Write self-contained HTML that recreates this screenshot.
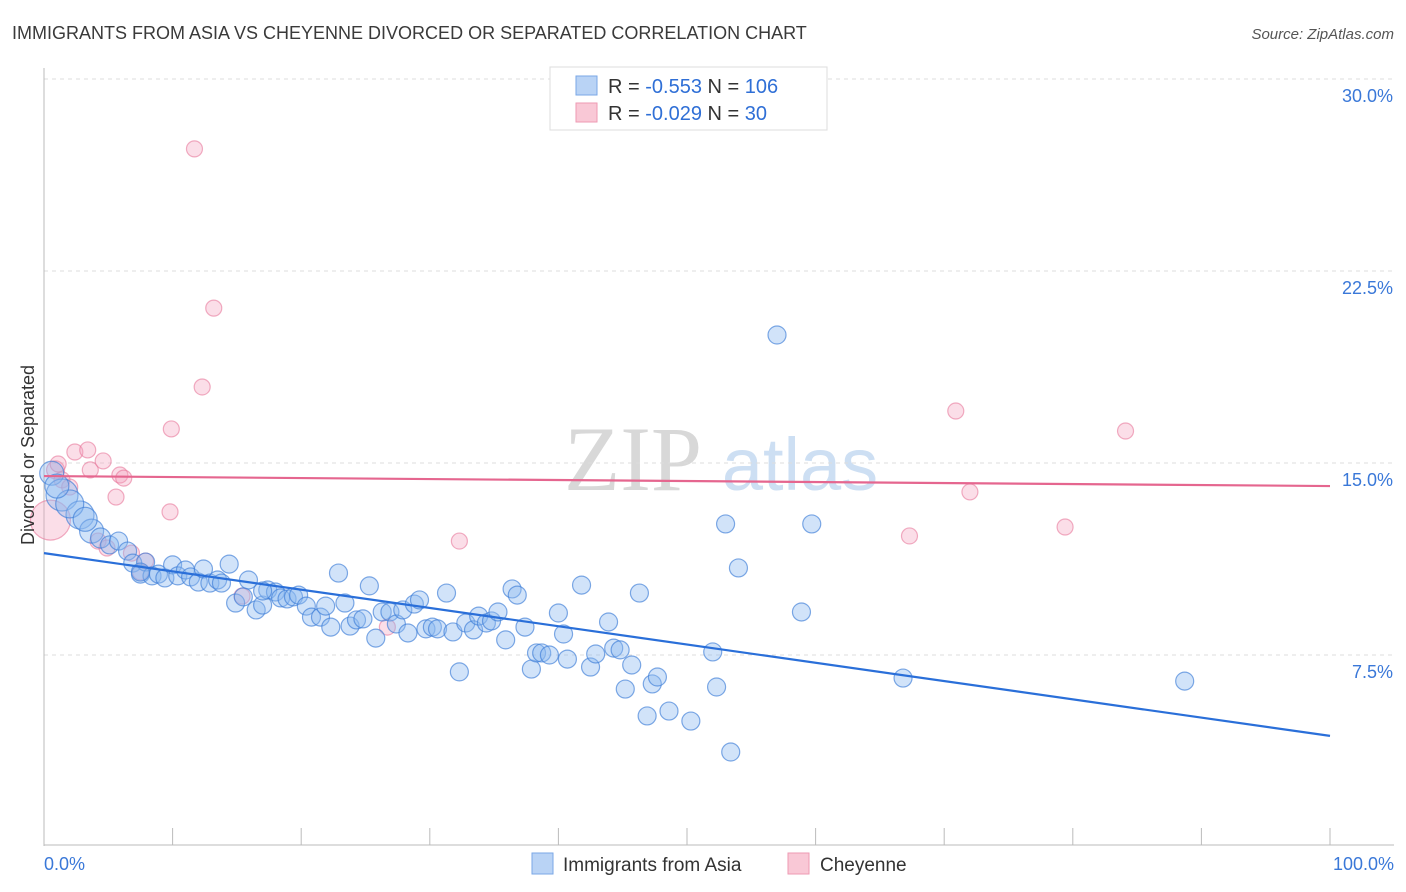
<!DOCTYPE html>
<html><head><meta charset="utf-8"><style>
body{margin:0;background:#fff;font-family:"Liberation Sans",sans-serif}
svg{display:block}
</style></head><body>
<svg id="chart" width="1406" height="892" xmlns="http://www.w3.org/2000/svg">
<text x="12" y="39" font-size="18" fill="#3a3a3a">IMMIGRANTS FROM ASIA VS CHEYENNE DIVORCED OR SEPARATED CORRELATION CHART</text>
<text x="1394" y="39" font-size="15" fill="#555" font-style="italic" text-anchor="end">Source: ZipAtlas.com</text>
<g>
<text x="633" y="490" font-size="92" font-family="Liberation Serif" fill="#d8d8d8" text-anchor="middle">ZIP</text>
<text x="800" y="490" font-size="74" fill="#cddff3" text-anchor="middle">atlas</text>
</g>
<g id="grid"></g><g id="axes"></g><g id="pts"></g><g id="lines"></g>
<text transform="translate(34,455) rotate(-90)" font-size="18" fill="#333" text-anchor="middle">Divorced or Separated</text>
<g>
<rect x="550" y="67" width="277" height="63" fill="#fff" stroke="#ddd"/>
<rect x="576" y="76" width="21" height="19" fill="#b9d3f5" stroke="#7aa7e6"/>
<rect x="576" y="103" width="21" height="19" fill="#f9c8d6" stroke="#ee9ab3"/>
<text x="608" y="93" font-size="20" fill="#333">R = <tspan fill="#2f6fd6">-0.553</tspan>   N = <tspan fill="#2f6fd6">106</tspan></text>
<text x="608" y="120" font-size="20" fill="#333">R = <tspan fill="#2f6fd6">-0.029</tspan>   N = <tspan fill="#2f6fd6"> 30</tspan></text>
</g>
<g>
<rect x="532" y="853" width="21" height="21" fill="#b9d3f5" stroke="#7aa7e6"/>
<text x="563" y="871" font-size="19" fill="#333">Immigrants from Asia</text>
<rect x="788" y="853" width="21" height="21" fill="#f9c8d6" stroke="#ee9ab3"/>
<text x="820" y="871" font-size="19" fill="#333">Cheyenne</text>
</g>
</svg>
<script>
const yTicks=[7.5,15,22.5,30];
const yTickLabels=["7.5%","15.0%","22.5%","30.0%"];
const xTickCount=10;
const xLabels=["0.0%","100.0%"];
const asiaX=[0.6,1.4,2.8,3.7,4.4,5.1,5.8,6.5,6.9,7.5,7.9,8.4,8.9,9.4,10.0,10.4,11.0,11.4,12.0,12.4,12.9,13.5,13.8,14.4,14.9,15.5,15.9,16.5,17.0,17.4,18.0,18.4,18.9,19.4,19.8,20.4,20.8,21.5,21.9,22.3,22.9,23.4,23.8,24.3,24.8,25.3,25.8,26.3,26.9,27.4,27.9,28.3,28.8,29.2,29.7,30.2,30.6,31.3,31.8,32.3,32.8,33.4,33.8,34.4,34.8,35.3,35.9,36.4,36.8,37.4,37.9,38.3,38.7,39.3,40.0,40.4,40.7,41.8,42.5,42.9,43.9,44.3,44.8,45.2,45.7,46.3,46.9,47.3,47.7,48.6,50.3,52.0,52.3,53.0,53.4,54.0,57.0,58.9,59.7,66.8,88.7,7.5,17.0,2.0,1.0,3.2];
const asiaY=[14.6,13.75,12.97,12.34,12.07,11.8,11.95,11.56,11.09,10.66,11.13,10.59,10.66,10.51,11.02,10.59,10.82,10.55,10.35,10.86,10.31,10.43,10.31,11.05,9.53,9.77,10.43,9.26,9.45,10.04,9.96,9.73,9.69,9.77,9.84,9.41,8.98,8.98,9.41,8.59,10.7,9.53,8.63,8.87,8.91,10.2,8.16,9.18,9.18,8.71,9.26,8.36,9.49,9.65,8.52,8.59,8.52,9.92,8.4,6.84,8.75,8.48,9.02,8.75,8.83,9.18,8.09,10.08,9.84,8.59,6.95,7.58,7.58,7.5,9.14,8.32,7.34,10.23,7.03,7.54,8.79,7.77,7.7,6.17,7.11,9.92,5.12,6.37,6.64,5.31,4.92,7.62,6.25,12.62,3.71,10.9,20.0,9.18,12.62,6.6,6.48,10.74,10.0,13.4,14.1,12.8];
const asiaSize=[12,16,14,12,10,9,9,9,9,9,9,9,9,9,9,9,9,9,9,9,9,9,9,9,9,9,9,9,9,9,9,9,9,9,9,9,9,9,9,9,9,9,9,9,9,9,9,9,9,9,9,9,9,9,9,9,9,9,9,9,9,9,9,9,9,9,9,9,9,9,9,9,9,9,9,9,9,9,9,9,9,9,9,9,9,9,9,9,9,9,9,9,9,9,9,9,9,9,9,9,9,9,9,14,12,12];
const cheyX=[0.5,0.9,1.4,2.0,1.1,2.4,3.4,3.6,4.6,5.6,5.9,6.2,4.2,4.9,6.8,7.9,7.5,9.8,9.9,11.7,12.3,13.2,15.4,26.7,32.3,67.3,70.9,72.0,79.4,84.1];
const cheyY=[12.77,14.73,14.34,14.06,14.96,15.43,15.51,14.73,15.08,13.67,14.53,14.41,11.95,11.68,11.48,11.17,10.74,13.09,16.33,27.27,17.97,21.05,9.8,8.59,11.95,12.15,17.03,13.87,12.5,16.25];
const cheySize=[20,9,8,8,8,8,8,8,8,8,8,8,8,8,8,8,8,8,8,8,8,8,8,8,8,8,8,8,8,8];
const asiaTrend=[11.48,4.34];
const cheyTrend=[14.49,14.1];
const NS="http://www.w3.org/2000/svg";
const X0=44,X1=1330,Y0=847,PPY=25.6;
function sx(v){return X0+(X1-X0)*v/100;}
function sy(v){return Y0-v*PPY;}
function mk(t,a,p){const e=document.createElementNS(NS,t);for(const k in a)e.setAttribute(k,a[k]);document.getElementById(p).appendChild(e);return e;}
yTicks.forEach((t,i)=>{
 const l=mk('line',{x1:X0,x2:1394,y1:sy(t),y2:sy(t),stroke:'#ddd','stroke-dasharray':'4,4'},'grid');
 
 
 const tx=mk('text',{x:1393,y:sy(t)+23,'font-size':18,fill:'#3a78d8','text-anchor':'end'},'grid');
 tx.textContent=yTickLabels[i];
 
 
});
const ya=mk('line',{x1:X0,x2:X0,y1:68,y2:846,stroke:'#bbb'},'axes');


const xa=mk('line',{x1:X0,x2:1394,y1:845,y2:845,stroke:'#bbb'},'axes');


for(let i=0;i<=xTickCount;i++){
 const t=mk('line',{x1:sx(i*100/xTickCount),x2:sx(i*100/xTickCount),y1:828,y2:845,stroke:'#bbb'},'axes');
 
 
}
const xl0=mk('text',{x:44,y:870,'font-size':18,fill:'#3a78d8'},'axes');xl0.textContent=xLabels[0];


const xl1=mk('text',{x:1394,y:870,'font-size':18,fill:'#3a78d8','text-anchor':'end'},'axes');xl1.textContent=xLabels[1];


cheyX.forEach((v,i)=>{
 const c=mk('circle',{cx:sx(v),cy:sy(cheyY[i]),r:cheySize[i],fill:'rgba(244,160,188,0.35)',stroke:'rgba(232,120,155,0.6)','stroke-width':1.2},'pts');
 
 
});
asiaX.forEach((v,i)=>{
 const c=mk('circle',{cx:sx(v),cy:sy(asiaY[i]),r:asiaSize[i],fill:'rgba(140,185,240,0.4)',stroke:'rgba(60,125,215,0.65)','stroke-width':1.2},'pts');
 
 
});
const tl1=mk('line',{x1:sx(0),x2:sx(100),y1:sy(asiaTrend[0]),y2:sy(asiaTrend[1]),stroke:'#2a6fd9','stroke-width':2.2},'lines');


const tl2=mk('line',{x1:sx(0),x2:sx(100),y1:sy(cheyTrend[0]),y2:sy(cheyTrend[1]),stroke:'#e5668f','stroke-width':2.2},'lines');


</script>
</body></html>
